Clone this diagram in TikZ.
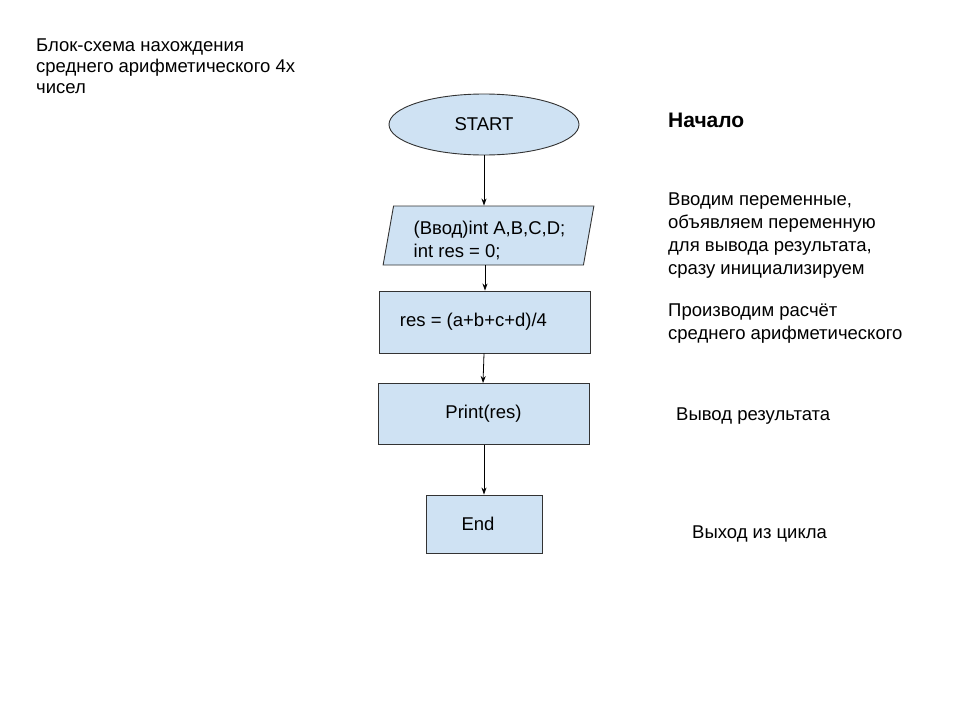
\documentclass[tikz,border=0pt]{standalone}
\usepackage{fontspec}
\setmainfont{Liberation Sans}
\usetikzlibrary{shapes.geometric,arrows.meta}
\definecolor{boxfill}{HTML}{CFE2F3}
\definecolor{boxline}{HTML}{333333}
\tikzset{
  blk/.style={draw=boxline, line width=0.9pt, fill=boxfill, inner sep=0pt, font=\fontsize{18.5}{22.5}\selectfont},
  flowrect/.style={blk, rectangle},
  arr/.style={draw=black, line width=0.8pt, -{Stealth[length=7pt,width=5pt]}},
  note/.style={inner sep=0pt, anchor=base west, align=left, font=\fontsize{18.5}{23}\selectfont},
}
\begin{document}
\begin{tikzpicture}[x=1pt,y=-1pt]
\useasboundingbox (0,0) rectangle (960,720);
\fill[white] (0,0) rectangle (960,720);
% title (anchored at the baseline of its last line)
\node[note, font=\fontsize{18.5}{21}\selectfont] (title) at (36,93.5) {Блок-схема нахождения\\среднего арифметического 4х\\чисел};
% flow shapes
\node[blk, ellipse, minimum width=190pt, minimum height=61pt] (start) at (484,124.5) {START};
\node[blk, trapezium, trapezium left angle=80, trapezium right angle=100, trapezium stretches=true, minimum width=211pt, minimum height=59pt, align=left] (inp) at (488.5,235.5) {\rule{0pt}{23pt}\hspace*{2pt}(Ввод)int A,B,C,D;\\\hspace*{2pt}int res = 0;};
\node[flowrect, minimum width=211pt, minimum height=62pt] (calc) at (484.5,322) {\hspace*{-22pt}res = (a+b+c+d)/4};
\node[flowrect, minimum width=211pt, minimum height=61pt] (prt) at (483.5,414) {Print(res)};
\node[flowrect, minimum width=116pt, minimum height=58pt] (fin) at (484,524) {\hspace*{-12pt}End};
% connectors
\draw[arr] (start.south) -- (start.south |- inp.north);
\draw[arr] (inp.south -| 485,0) -- (485,0 |- calc.north);
\draw[arr] (calc.south -| 484,0) -- (483,0 |- prt.north);
\draw[arr] (prt.south -| 484,0) -- (484,0 |- fin.north);
% notes (anchored at the baseline of their last line)
\node[note, font=\bfseries\fontsize{21}{24}\selectfont] (n1) at (668,127) {Начало};
\node[note] (n2) at (668,274.5) {Вводим переменные,\\объявляем переменную\\для вывода результата,\\сразу инициализируем};
\node[note] (n3) at (668,339) {Производим расчёт\\среднего арифметического};
\node[note] (n4) at (676,420) {Вывод результата};
\node[note] (n5) at (692,538) {Выход из цикла};
\end{tikzpicture}
\end{document}
